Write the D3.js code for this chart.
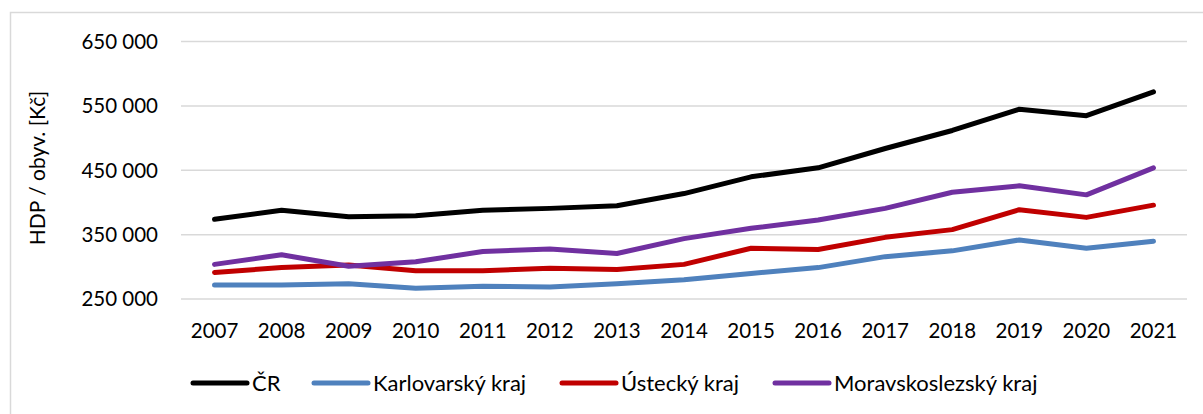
<!DOCTYPE html>
<html>
<head>
<meta charset="utf-8">
<script src="https://cdn.jsdelivr.net/npm/d3@7"></script>
<style>
  html, body { margin: 0; padding: 0; background: #fff; }
  svg { display: block; }
  text { font-family: Lato, "Open Sans", sans-serif; fill: #000; }
</style>
</head>
<body>
<svg id="chart" width="1203" height="414"></svg>
<script>
const years = ["2007","2008","2009","2010","2011","2012","2013","2014","2015","2016","2017","2018","2019","2020","2021"];
const seriesNames = ["ČR", "Karlovarský kraj", "Ústecký kraj", "Moravskoslezský kraj"];
const seriesColors = ["#000000", "#4F81BD", "#C00000", "#7030A0"];
const cr   = [373000, 387000, 377000, 378500, 387000, 390000, 394000, 413000, 439000, 453000, 483000, 511000, 544000, 534000, 571000];
const kv   = [271000, 271000, 273000, 266000, 269000, 268000, 273000, 279000, 289000, 298000, 315000, 324000, 341000, 328000, 339000];
const ust  = [290500, 298000, 302000, 293000, 293000, 297000, 295000, 303000, 328000, 326000, 345000, 357000, 388000, 376000, 395000];
const msk  = [303000, 318000, 300000, 307000, 323000, 327000, 320000, 343000, 359000, 372000, 390000, 415000, 425000, 411000, 453000];
const yTicks = [250000, 350000, 450000, 550000, 650000];
const yTitle = "HDP / obyv. [Kč]";

const allSeries = [cr, kv, ust, msk];

const svg = d3.select("#chart");

// outer border (chart area frame)
svg.append("rect")
  .attr("x", 10.5).attr("y", 12.5)
  .attr("width", 1220).attr("height", 420)
  .attr("fill", "none").attr("stroke", "#d9d9d9").attr("stroke-width", 1.5);

const x = d3.scaleBand().domain(years).range([181, 1187]);
const y = d3.scaleLinear().domain([250000, 650000]).range([298.5, 41]);

const locale = d3.formatLocale({ decimal: ",", thousands: "\u00a0", grouping: [3], currency: ["", " Kč"] });
const fmt = locale.format(",d");

// gridlines
const yAxis = d3.axisLeft(y).tickValues(yTicks).tickSize(-(1187 - 181)).tickFormat(fmt).tickPadding(23);
const gy = svg.append("g").attr("transform", "translate(181,0)").call(yAxis);
gy.select(".domain").remove();
gy.selectAll(".tick line").attr("stroke", "#d9d9d9").attr("stroke-width", 1.5);
gy.selectAll(".tick text").attr("font-size", 20.5).attr("dy", "0.36em").style("font-family", "Lato, sans-serif");

// x axis labels
const xAxis = d3.axisBottom(x).tickSize(0).tickPadding(0);
const gx = svg.append("g").attr("transform", "translate(0,323)").call(xAxis);
gx.select(".domain").remove();
gx.selectAll(".tick text").attr("font-size", 20.5).attr("dy", "0.72em").style("font-family", "Lato, sans-serif");

// y title
svg.append("text")
  .attr("transform", "translate(45,168) rotate(-90)")
  .attr("text-anchor", "middle")
  .attr("font-size", 21)
  .text(yTitle);

// lines
const line = d3.line()
  .x((d, i) => x(years[i]) + x.bandwidth() / 2)
  .y(d => y(d));

allSeries.forEach((s, k) => {
  svg.append("path")
    .datum(s)
    .attr("d", line)
    .attr("fill", "none")
    .attr("stroke", seriesColors[k])
    .attr("stroke-width", 5)
    .attr("stroke-linejoin", "round")
    .attr("stroke-linecap", "round");
});

// legend
const legendX = [193, 314, 562, 775];
const legend = svg.append("g");
seriesNames.forEach((name, k) => {
  const g = legend.append("g").attr("transform", `translate(${legendX[k]},383)`);
  g.append("line")
    .attr("x1", 0).attr("x2", 54).attr("y1", 0).attr("y2", 0)
    .attr("stroke", seriesColors[k]).attr("stroke-width", 5).attr("stroke-linecap", "round");
  g.append("text")
    .attr("x", 59).attr("y", 0).attr("dy", "0.36em")
    .attr("font-size", 22)
    .text(name);
});
</script>
</body>
</html>
